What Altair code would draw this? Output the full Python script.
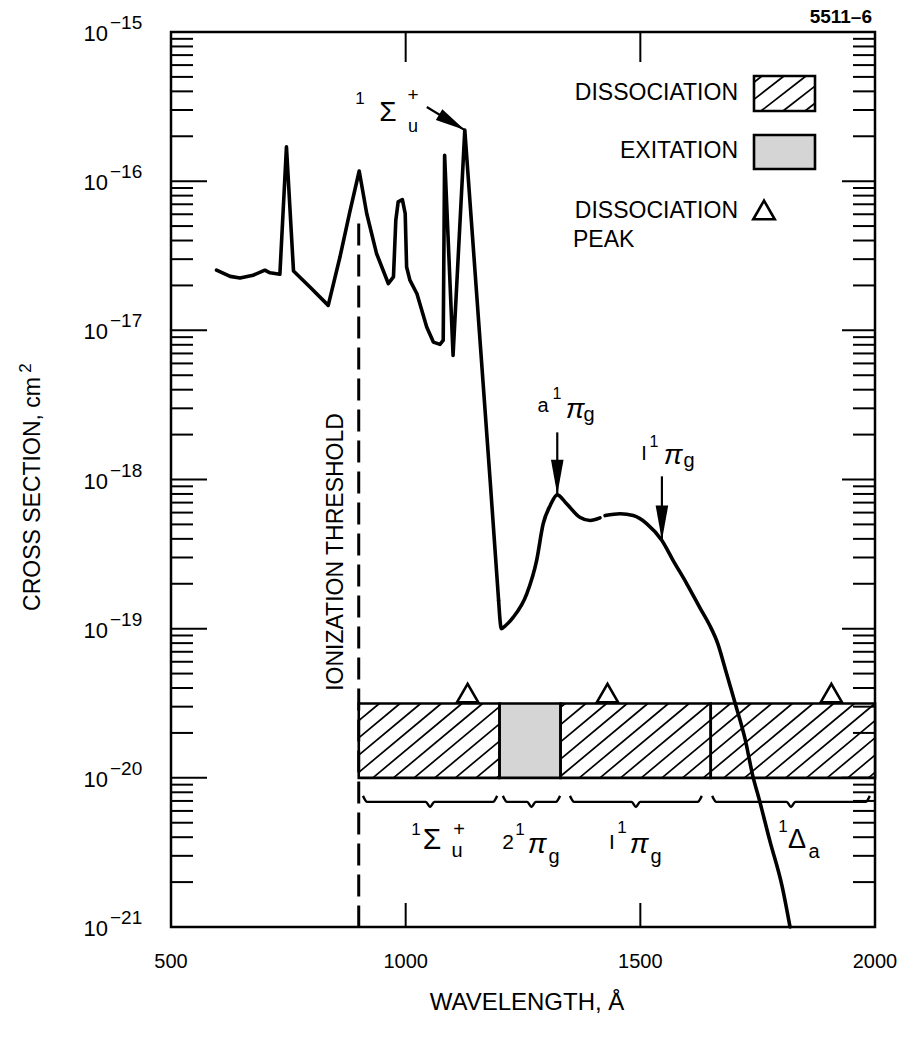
import altair as alt
import numpy as np
import pandas as pd

FONT = "Liberation Sans"
LEFT, TOP, W, H = 171, 32, 704, 895
TOTAL_W, TOTAL_H = 904, 1041

# ---------------- data ----------------
# photo-absorption cross section (cm^2) vs wavelength (Angstrom)
WL_SPIKY = [597, 626, 647, 675, 700, 711, 732, 746, 761, 796, 835, 860, 881, 901, 917, 938,
            963, 974, 979, 984, 993, 999, 1002, 1009, 1024, 1045, 1059, 1073, 1080, 1083,
            1101, 1126, 1180, 1198]
XS_SPIKY = [2.53e-17, 2.30e-17, 2.24e-17, 2.34e-17, 2.53e-17, 2.43e-17, 2.38e-17, 1.70e-16,
            2.50e-17, 1.95e-17, 1.47e-17, 3.10e-17, 6.22e-17, 1.17e-16, 6.07e-17, 3.27e-17,
            2.06e-17, 2.28e-17, 5.47e-17, 7.26e-17, 7.53e-17, 6.07e-17, 2.66e-17, 2.17e-17,
            1.76e-17, 1.05e-17, 8.34e-18, 8.05e-18, 8.57e-18, 1.49e-16, 6.79e-18, 2.20e-16,
            9.84e-19, 1.55e-19]
WL_SMOOTH_A = [1198, 1204, 1213, 1229, 1258, 1279, 1293, 1308, 1323, 1343, 1371, 1393, 1414]
XS_SMOOTH_A = [1.55e-19, 1.00e-19, 1.05e-19, 1.19e-19, 1.71e-19, 2.86e-19, 5.05e-19, 6.70e-19,
               7.89e-19, 6.87e-19, 5.58e-19, 5.31e-19, 5.53e-19]
WL_SMOOTH_B = [1425, 1457, 1485, 1514, 1546, 1570, 1599, 1627, 1648, 1665, 1680, 1692, 1702,
               1723, 1740, 1753, 1776, 1802, 1819]
XS_SMOOTH_B = [5.73e-19, 5.89e-19, 5.73e-19, 5.05e-19, 3.90e-19, 2.86e-19, 2.00e-19, 1.38e-19,
               1.05e-19, 7.94e-20, 5.50e-20, 4.07e-20, 3.16e-20, 1.83e-20, 1.02e-20, 7.23e-21,
               3.78e-21, 1.88e-21, 1.00e-21]

ION_WL = 900
ION_TOP = 5.2e-17

BLOCK_START = [900, 1200, 1330, 1650]
BLOCK_END = [1200, 1330, 1650, 2000]
BLOCK_KIND = ["DISSOCIATION", "EXITATION", "DISSOCIATION", "DISSOCIATION"]
BAND_LOW, BAND_HIGH = 1.0e-20, 3.15e-20

PEAK_WL = [1132, 1430, 1907]
PEAK_XS = [3.7e-20, 3.7e-20, 3.7e-20]

BRACE_START = [909, 1207, 1350, 1653]
BRACE_END = [1195, 1329, 1631, 1989]
BRACE_Y_END, BRACE_Y_FLAT, BRACE_Y_TIP = 7.57e-21, 6.90e-21, 6.38e-21

# arrows: (start wl, start xs, tip wl, tip xs)
ARROW_SIGMA = (1045, 3.14e-16, 1126, 2.20e-16)
ARROW_A = (1323, 2.07e-18, 1323, 7.89e-19)
ARROW_I = (1546, 1.05e-18, 1546, 3.90e-19)

X_TICKS = [500, 1000, 1500, 2000]
X_INNER_TICKS = [1000, 1500]
Y_DECADES = [1e-15, 1e-16, 1e-17, 1e-18, 1e-19, 1e-20, 1e-21]
Y_EXP = ["\u221215", "\u221216", "\u221217", "\u221218", "\u221219", "\u221220", "\u221221"]

# ---------------- styles ----------------
HATCH_STEP = 44.0   # Angstrom between hatch lines
HATCH_RUN = 190.0   # Angstrom a hatch line travels across the band height

XS = alt.Scale(domain=[500, 2000], zero=False, nice=False)
YS = alt.Scale(type="log", domain=[1e-21, 1e-15], nice=False)
ONE = pd.DataFrame({"k": [0]})


def X(f):
    return alt.X(f, type="quantitative", scale=XS, axis=None)


def Y(f):
    return alt.Y(f, type="quantitative", scale=YS, axis=None)


def text(t, x, y, size, align="center", baseline="middle", angle=0, style="normal", weight="normal"):
    return alt.Chart(ONE).mark_text(
        text=t, font=FONT, fontSize=size, align=align, baseline=baseline, angle=angle,
        fontStyle=style, fontWeight=weight, color="black"
    ).encode(x=alt.value(x - LEFT), y=alt.value(y - TOP))


layers = []

# ---- band of dissociation / excitation ----
band = pd.DataFrame({"s": BLOCK_START, "e": BLOCK_END, "kind": BLOCK_KIND,
                     "lo": [BAND_LOW] * 4, "hi": [BAND_HIGH] * 4})
layers.append(alt.Chart(band).mark_rect(strokeWidth=0).encode(
    x=X("s"), x2="e", y=Y("lo"), y2="hi",
    fill=alt.Fill("kind:N", scale=alt.Scale(domain=["DISSOCIATION", "EXITATION"],
                                            range=["white", "#d5d5d5"]), legend=None)))

# hatch lines
lo_l, hi_l = np.log10(BAND_LOW), np.log10(BAND_HIGH)
rows = []
for s, e, k in zip(BLOCK_START, BLOCK_END, BLOCK_KIND):
    if k != "DISSOCIATION":
        continue
    xb = BLOCK_START[0] - HATCH_RUN
    while xb < e:
        t0 = max(0.0, (s - xb) / HATCH_RUN)
        t1 = min(1.0, (e - xb) / HATCH_RUN)
        if t1 - t0 > 0.02:
            rows.append({"x": xb + HATCH_RUN * t0, "x2": xb + HATCH_RUN * t1,
                         "y": 10 ** (lo_l + t0 * (hi_l - lo_l)),
                         "y2": 10 ** (lo_l + t1 * (hi_l - lo_l))})
        xb += HATCH_STEP
layers.append(alt.Chart(pd.DataFrame(rows)).mark_rule(color="black", strokeWidth=1.7).encode(
    x=X("x"), x2="x2", y=Y("y"), y2="y2"))
layers.append(alt.Chart(band).mark_rect(fillOpacity=0, stroke="black", strokeWidth=2.6).encode(
    x=X("s"), x2="e", y=Y("lo"), y2="hi"))

# peak triangles
layers.append(alt.Chart(pd.DataFrame({"wl": PEAK_WL, "xs": PEAK_XS})).mark_point(
    shape="triangle-up", size=460, filled=False, color="black", strokeWidth=2.6, opacity=1).encode(
    x=X("wl"), y=Y("xs")))

# braces
brows = []
for i, (s, e) in enumerate(zip(BRACE_START, BRACE_END)):
    m = (s + e) / 2
    for wl, yy in [(s, BRACE_Y_END), (s + 9, BRACE_Y_FLAT), (m - 9, BRACE_Y_FLAT), (m, BRACE_Y_TIP),
                   (m + 9, BRACE_Y_FLAT), (e - 9, BRACE_Y_FLAT), (e, BRACE_Y_END)]:
        brows.append({"id": i, "wl": wl, "xs": yy})
layers.append(alt.Chart(pd.DataFrame(brows)).mark_line(
    color="black", strokeWidth=2.4, interpolate="monotone").encode(
    x=X("wl"), y=Y("xs"), detail="id:N"))

# ionization threshold
layers.append(alt.Chart(pd.DataFrame({"wl": [ION_WL], "top": [ION_TOP], "bot": [1e-21]})).mark_rule(
    color="black", strokeWidth=3, strokeDash=[22, 9]).encode(x=X("wl"), y=Y("top"), y2="bot"))

# ---- cross-section curve ----
layers.append(alt.Chart(pd.DataFrame({"wl": WL_SPIKY, "xs": XS_SPIKY})).mark_line(
    color="black", strokeWidth=3.6, strokeJoin="round", strokeCap="round").encode(
    x=X("wl"), y=Y("xs")))
smooth = pd.concat([
    pd.DataFrame({"wl": WL_SMOOTH_A, "xs": XS_SMOOTH_A, "seg": "a"}),
    pd.DataFrame({"wl": WL_SMOOTH_B, "xs": XS_SMOOTH_B, "seg": "b"}),
])
layers.append(alt.Chart(smooth).mark_line(
    color="black", strokeWidth=3.6, interpolate="monotone", strokeCap="round").encode(
    x=X("wl"), y=Y("xs"), detail="seg:N"))

# ---- arrows ----
for (x0, y0, x1, y1), shape, size, ang in [
        (ARROW_SIGMA, "M 0 0 L -2 -0.42 L -2 0.42 Z", 900, 31),
        (ARROW_A, "M 0 0 L -0.36 -2 L 0.36 -2 Z", 1225, 0),
        (ARROW_I, "M 0 0 L -0.36 -2 L 0.36 -2 Z", 1225, 0)]:
    d = pd.DataFrame({"x": [x0], "y": [y0], "x2": [x1], "y2": [y1]})
    layers.append(alt.Chart(d).mark_rule(color="black", strokeWidth=2.2).encode(
        x=X("x"), x2="x2", y=Y("y"), y2="y2"))
    layers.append(alt.Chart(d).mark_point(
        shape=shape, size=size, filled=True, color="black", opacity=1, angle=ang).encode(
        x=X("x2"), y=Y("y2")))

# ---- frame ticks ----
minor = [m * 10.0 ** k for k in range(-21, -15) for m in range(2, 10)]
major = [10.0 ** k for k in range(-20, -15)]
for vals, x0, x1 in [(minor, 0, 22), (major, 0, 36), (minor, W - 22, W), (major, W - 33, W)]:
    layers.append(alt.Chart(pd.DataFrame({"v": vals})).mark_rule(color="black", strokeWidth=2).encode(
        x=alt.value(x0), x2=alt.value(x1), y=Y("v")))
for y0, y1 in [(0, 30), (H - 24, H)]:
    layers.append(alt.Chart(pd.DataFrame({"v": X_INNER_TICKS})).mark_rule(color="black", strokeWidth=2).encode(
        x=X("v"), y=alt.value(y0), y2=alt.value(y1)))

# ---- tick labels ----
layers.append(alt.Chart(pd.DataFrame({"v": X_TICKS})).mark_text(
    font=FONT, fontSize=20, color="black", baseline="middle").encode(
    x=X("v"), y=alt.value(H + 35), text=alt.Text("v:Q", format="d")))
ylab = pd.DataFrame({"v": Y_DECADES, "e": Y_EXP, "b": ["10"] * len(Y_DECADES)})
layers.append(alt.Chart(ylab).mark_text(
    font=FONT, fontSize=22, color="black", align="right", baseline="middle", dy=2).encode(
    x=alt.value(-63), y=Y("v"), text="b:N"))
layers.append(alt.Chart(ylab).mark_text(
    font=FONT, fontSize=19, color="black", align="left", baseline="middle", dy=-9).encode(
    x=alt.value(-61), y=Y("v"), text="e:N"))

# ---- titles ----
layers.append(text("WAVELENGTH, \u00c5", 527, 1003, 24))
layers.append(text("CROSS SECTION, cm", 40, 494, 23, baseline="alphabetic", angle=270))
layers.append(text("2", 31, 368, 17, baseline="alphabetic", angle=270))
layers.append(text("IONIZATION THRESHOLD", 343, 552, 23, baseline="alphabetic", angle=270))
layers.append(text("5511\u20136", 872, 17, 19, align="right", weight="bold"))

# ---- legend ----
layers.append(text("DISSOCIATION", 738, 93, 23, align="right"))
layers.append(text("EXITATION", 738, 151, 23, align="right"))
layers.append(text("DISSOCIATION", 738, 211, 23, align="right"))
layers.append(text("PEAK", 573, 240, 23, align="left"))
layers.append(alt.Chart(ONE).mark_rect(fill="white", stroke="black", strokeWidth=2.6).encode(
    x=alt.value(754 - LEFT), x2=alt.value(815 - LEFT), y=alt.value(76 - TOP), y2=alt.value(111 - TOP)))
bx0, bx1, by0, by1 = 754, 815, 76, 111
run = 45.0
xb = bx0 - run + 8
while xb < bx1:
    t0 = max(0.0, (bx0 - xb) / run)
    t1 = min(1.0, (bx1 - xb) / run)
    if t1 - t0 > 0.05:
        layers.append(alt.Chart(ONE).mark_rule(color="black", strokeWidth=1.7).encode(
            x=alt.value(xb + run * t0 - LEFT), x2=alt.value(xb + run * t1 - LEFT),
            y=alt.value(by1 - (by1 - by0) * t0 - TOP), y2=alt.value(by1 - (by1 - by0) * t1 - TOP)))
    xb += 22
layers.append(alt.Chart(ONE).mark_rect(fill="#d5d5d5", stroke="black", strokeWidth=2.6).encode(
    x=alt.value(754 - LEFT), x2=alt.value(815 - LEFT), y=alt.value(135 - TOP), y2=alt.value(169 - TOP)))
layers.append(alt.Chart(ONE).mark_point(
    shape="triangle-up", size=460, filled=False, color="black", strokeWidth=2.6, opacity=1).encode(
    x=alt.value(764 - LEFT), y=alt.value(210 - TOP)))

# ---- state labels ----
ANNOT = [
    # (text, x, y, size, italic)
    ("1", 360, 99, 17, False), ("\u03a3", 388, 113, 28, False), ("+", 413, 95, 19, False), ("u", 413, 127, 18, False),
    ("a", 543, 406, 20, False), ("1", 557, 394, 16, False), ("\u03c0", 575, 410, 28, True), ("g", 589, 415, 20, False),
    ("I", 644, 454, 20, False), ("1", 654, 442, 16, False), ("\u03c0", 673, 456, 28, True), ("g", 689, 461, 20, False),
    ("1", 416, 830, 17, False), ("\u03a3", 432, 840, 30, False), ("+", 459, 830, 20, False), ("u", 457, 851, 20, False),
    ("2", 508, 843, 21, False), ("1", 520, 830, 17, False), ("\u03c0", 537, 845, 28, True), ("g", 554, 857, 20, False),
    ("I", 612, 843, 21, False), ("1", 622, 828, 17, False), ("\u03c0", 639, 845, 28, True), ("g", 656, 857, 20, False),
    ("1", 783, 827, 17, False), ("\u0394", 797, 840, 27, False), ("a", 814, 852, 20, False),
]
for t, x, y, s, it in ANNOT:
    layers.append(text(t, x, y, s, style="italic" if it else "normal"))

chart = alt.layer(*layers).properties(
    width=W, height=H, background="white",
    autosize=alt.AutoSizeParams(type="none"),
    padding={"left": LEFT, "top": TOP, "right": TOTAL_W - LEFT - W, "bottom": TOTAL_H - TOP - H},
).configure_view(stroke="black", strokeWidth=2.5)

chart.save("out.html", embed_options={"renderer": "svg", "actions": False})
